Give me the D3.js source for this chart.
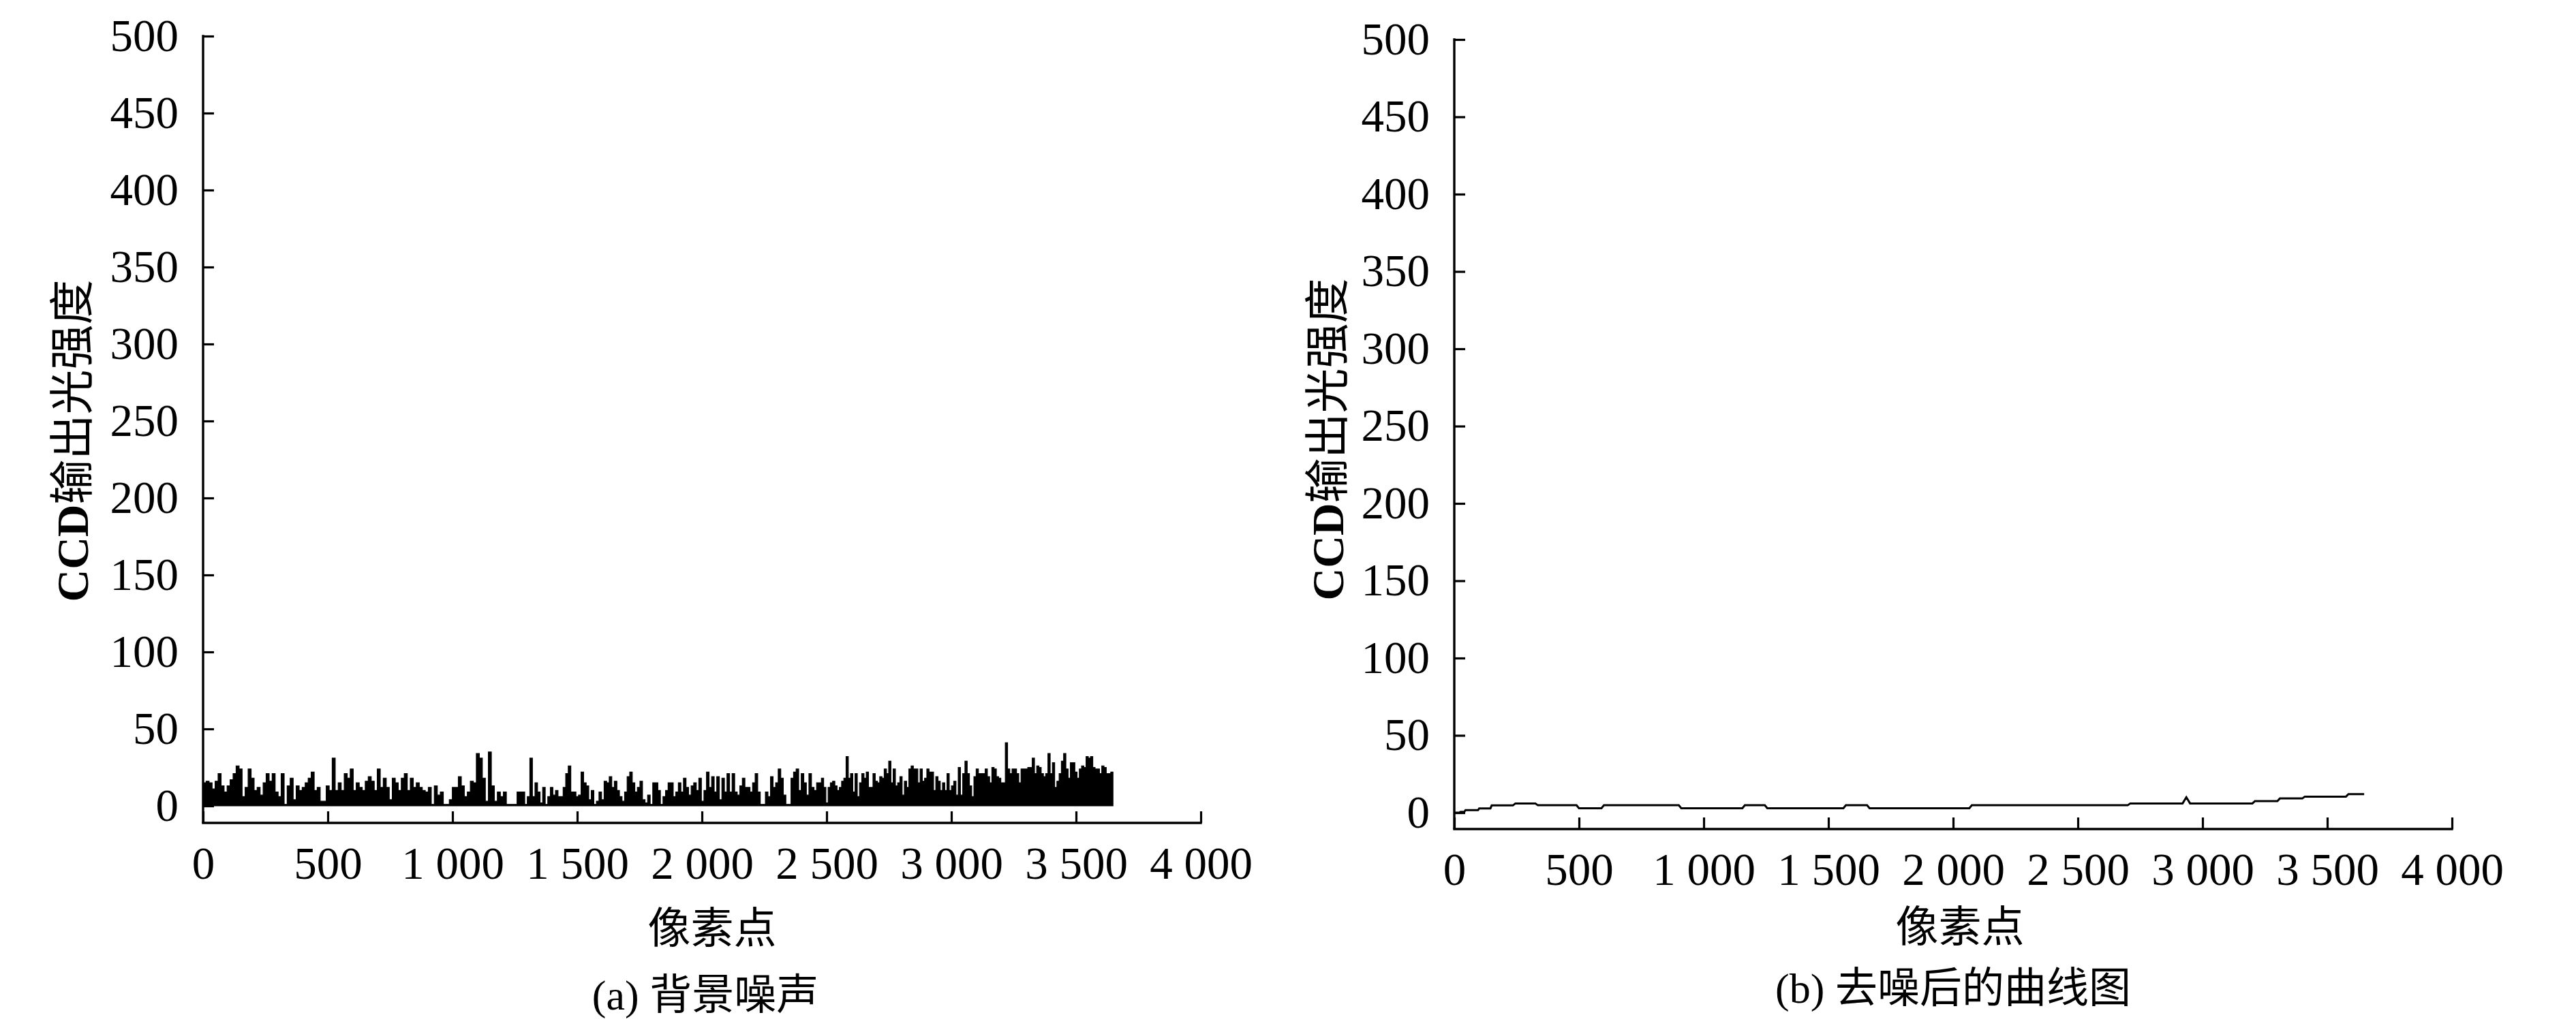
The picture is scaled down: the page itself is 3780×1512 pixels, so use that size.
<!DOCTYPE html>
<html>
<head>
<meta charset="utf-8">
<script src="https://cdn.jsdelivr.net/npm/d3@7"></script>
<style>
  html, body { margin: 0; padding: 0; background: #fff; }
  text { fill: #000; }
</style>
</head>
<body>
<script>
// x ticks shared by both panels
const xTicks = [0, 500, 1000, 1500, 2000, 2500, 3000, 3500, 4000];
const yTicks = [0, 50, 100, 150, 200, 250, 300, 350, 400, 450, 500];

// (a) background noise in three stretches
const noiseSpans = [[0, 1228], [1228, 2470], [2470, 3648]];
const noiseA = [15, 16, 15, 11, 16, 21, 13, 9, 13, 17, 21, 26, 24, 6, 12, 24, 18, 10, 12, 7, 15, 21, 16, 21, 9, 6, 21, 1, 13, 18,
  4, 13, 10, 12, 15, 18, 22, 10, 12, 3, 3, 13, 10, 31, 10, 15, 10, 21, 18, 24, 10, 15, 12, 10, 16, 19, 16, 10, 24, 12,
  18, 12, 4, 18, 15, 10, 18, 21, 10, 18, 12, 15, 12, 10, 9, 12, 1, 13, 7, 9, 1, 1, 4, 12, 12, 19, 13, 6, 9, 16,
  15, 34, 31, 18, 3, 35, 13, 3, 9, 6, 9, 1];
const noiseB = [1, 1, 1, 9, 9, 9, 1, 6, 31, 6, 15, 9, 2, 12, 1, 6, 12, 7, 10, 6, 6, 12, 21, 26, 9, 9, 6, 7, 22, 15,
  13, 4, 10, 1, 3, 9, 4, 16, 15, 19, 12, 16, 10, 6, 3, 9, 19, 22, 15, 9, 12, 16, 4, 2, 7, 1, 15, 15, 10, 1,
  6, 10, 15, 15, 6, 9, 15, 9, 18, 12, 7, 13, 15, 10, 18, 3, 10, 22, 12, 19, 9, 19, 4, 18, 9, 21, 9, 21, 9, 7,
  13, 18, 12, 12, 9, 15, 21, 9, 1, 1, 9, 6, 19, 12, 15, 24, 18, 7, 1, 1, 18, 22, 24, 10, 21, 15, 7, 21, 12, 10, 15];
const noiseC = [15, 18, 12, 2, 12, 15, 16, 13, 10, 12, 16, 18, 32, 18, 21, 9, 21, 6, 15, 21, 18, 22, 12, 12, 21, 16, 15, 19, 18, 24,
  21, 29, 15, 24, 13, 15, 19, 7, 16, 12, 24, 26, 24, 24, 15, 24, 16, 18, 24, 22, 22, 10, 19, 16, 10, 15, 10, 21, 10, 13,
  16, 7, 25, 7, 21, 29, 21, 13, 6, 19, 24, 21, 21, 21, 24, 19, 15, 25, 24, 19, 18, 15, 15, 41, 24, 21, 24, 24, 21, 15,
  24, 24, 24, 25, 25, 31, 21, 26, 25, 21, 19, 21, 34, 21, 28, 12, 16, 21, 29, 34, 24, 18, 28, 28, 22, 18, 24, 26, 25, 32,
  31, 32, 25, 24, 24, 21, 26, 25, 21, 21, 22];

// (b) curve after denoising (pixel index, intensity)
const smoothX = [0, 20, 25, 40, 45, 95, 100, 145, 150, 235, 245, 325, 335, 490, 500, 590, 600, 900, 910, 1155, 1165, 1245,
  1255, 1560, 1570, 1655, 1665, 2065, 2075, 2700, 2710, 2920, 2935, 2950, 3200, 3210, 3300, 3310, 3400, 3410, 3575, 3585, 3648];
const smoothY = [0, 0, 0.5, 0.5, 1.6, 1.6, 2.8, 2.8, 4.7, 4.7, 6, 6, 4.8, 4.8, 2.9, 2.9, 4.8, 4.8, 2.9, 2.9, 4.8, 4.8,
  2.9, 2.9, 4.8, 4.8, 2.9, 2.9, 4.8, 4.8, 6, 6, 10, 6, 6, 7.5, 7.5, 9.2, 9.2, 10.4, 10.4, 12, 12];

const W = 3780, H = 1512;
const serif = '"Liberation Serif", "Times New Roman", serif';
const cjk = '"Noto Sans CJK SC", sans-serif';
const fmt = d => d3.format(",")(d).replace(/,/g, " ");

const svg = d3.select("body").append("svg")
  .attr("width", W).attr("height", H)
  .style("display", "block");

// one panel: axes, titles, caption
function panel(p) {
  const x = d3.scaleLinear().domain([0, 4000]).range([p.left, p.left + 1464]);
  const y = d3.scaleLinear().domain([0, 500]).range([p.zero, p.top]);
  const g = svg.append("g");

  // y axis, ticks pointing inward
  const ya = g.append("g").attr("transform", `translate(${p.left},0)`)
    .call(d3.axisLeft(y).tickValues(yTicks).tickSize(-16).tickPadding(36));
  ya.select(".domain").remove();
  g.append("line").attr("x1", p.left).attr("x2", p.left)
    .attr("y1", p.top - 1.7).attr("y2", p.bottom)
    .attr("stroke", "#000").attr("stroke-width", 3.4);

  // x axis sits below zero
  const xa = g.append("g").attr("transform", `translate(0,${p.bottom})`)
    .call(d3.axisBottom(x).tickValues(xTicks).tickFormat(fmt).tickSize(-17).tickPadding(34));
  xa.select(".domain").remove();
  g.append("line").attr("x1", p.left - 1.7).attr("x2", x(4000) + 1.7)
    .attr("y1", p.bottom).attr("y2", p.bottom)
    .attr("stroke", "#000").attr("stroke-width", 3.4);

  [ya, xa].forEach(a => {
    a.selectAll(".tick line").attr("stroke", "#000").attr("stroke-width", 3.2);
    a.selectAll(".tick text").style("font-family", serif).style("font-size", "67px");
  });

  // y title
  const yt = g.append("text")
    .attr("transform", `translate(${p.titleX},${p.titleY}) rotate(-90)`)
    .attr("text-anchor", "middle").attr("dy", "0.35em")
    .style("font-size", "66px");
  yt.append("tspan").text("CCD").style("font-family", serif).style("font-weight", "bold");
  yt.append("tspan").text("输出光强度").style("font-family", cjk);

  g.append("text").attr("x", p.xlabX).attr("y", p.xlabY).attr("dy", "0.35em")
    .attr("text-anchor", "middle").style("font-family", cjk).style("font-size", "63px")
    .text("像素点");

  const cap = g.append("text").attr("x", p.capX).attr("y", p.capY).attr("dy", "0.35em")
    .attr("text-anchor", "middle").style("font-size", "62px");
  cap.append("tspan").text(p.tag + " ").style("font-family", serif);
  cap.append("tspan").text(p.caption).style("font-family", cjk);

  return { g, x, y };
}

/* (a) noise */
const pa = panel({ left: 298, top: 53, zero: 1183, bottom: 1208, titleX: 106, titleY: 647,
  xlabX: 1045, xlabY: 1362, capX: 1035, capY: 1460, tag: "(a)", caption: "背景噪声" });

const noisePts = [];
[noiseA, noiseB, noiseC].forEach((vals, k) => {
  const [a, b] = noiseSpans[k];
  const step = (b - a) / vals.length;
  vals.forEach((v, i) => noisePts.push([a + i * step, v]));
});
noisePts.push([noiseSpans[2][1], noiseC[noiseC.length - 1]]);

pa.g.append("path")
  .datum(noisePts)
  .attr("fill", "#000")
  .attr("stroke", "#000")
  .attr("stroke-width", 1.2)
  .attr("d", d3.area().curve(d3.curveStepAfter)
    .x(d => pa.x(d[0])).y0(pa.y(0)).y1(d => pa.y(d[1])));

/* (b) after denoising */
const pb = panel({ left: 2134, top: 58, zero: 1193, bottom: 1217, titleX: 1948, titleY: 645,
  xlabX: 2876, xlabY: 1360, capX: 2866, capY: 1450, tag: "(b)", caption: "去噪后的曲线图" });

pb.g.append("path")
  .datum(smoothX.map((v, i) => [v, smoothY[i]]))
  .attr("fill", "none")
  .attr("stroke", "#000")
  .attr("stroke-width", 3)
  .attr("d", d3.line().x(d => pb.x(d[0])).y(d => pb.y(d[1])));
</script>
</body>
</html>
